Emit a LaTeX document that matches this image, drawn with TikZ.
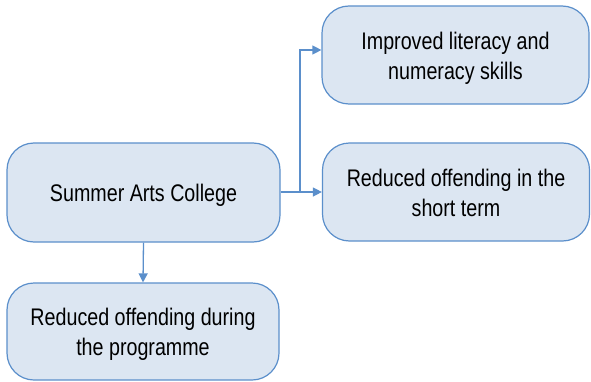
\documentclass[tikz,border=0pt]{standalone}
\usepackage{fontspec}
\setmainfont{Liberation Sans}[FakeStretch=0.82]
\usetikzlibrary{arrows.meta,calc}
\definecolor{boxfill}{HTML}{DCE6F2}
\definecolor{boxline}{HTML}{5B8FCB}
\tikzset{
  box/.style={draw=boxline, fill=boxfill, line width=1.2pt, rounded corners=27pt, inner sep=0pt},
  txt/.style={align=center, font=\fontsize{24}{30}\selectfont, inner sep=0pt},
  conn/.style={draw=boxline, line width=1.3pt, -{Triangle[length=9pt,width=9pt]}}
}
\begin{document}
\begin{tikzpicture}[x=1pt,y=1pt]
\useasboundingbox (0,0) rectangle (591,381);
\node[box, minimum width=273pt, minimum height=99pt] (main) at (143.5,188.5) {};
\node[txt] (mainT) at ($(main.center)+(0,-3)$) {Summer Arts College};
\node[box, minimum width=267pt, minimum height=98pt] (top) at (455.5,326) {};
\node[txt] (topT) at ($(top.center)+(0,-3)$) {Improved literacy and\\numeracy skills};
\node[box, minimum width=267pt, minimum height=98pt] (mid) at (456,189) {};
\node[txt] (midT) at ($(mid.center)+(0,-1)$) {Reduced offending in the\\short term};
\node[box, minimum width=272pt, minimum height=97pt] (bot) at (143,49.5) {};
\node[txt] (botT) at ($(bot.center)+(0,-3)$) {Reduced offending during\\the programme};
\coordinate (j) at (300,189);
\coordinate (tin) at ($(top.west)+(0,5)$);
\draw[conn] (main.east |- j) -- (mid.west);
\draw[conn] (j) |- (tin);
\draw[conn] (main.south) -- (bot.north);
\end{tikzpicture}
\end{document}
